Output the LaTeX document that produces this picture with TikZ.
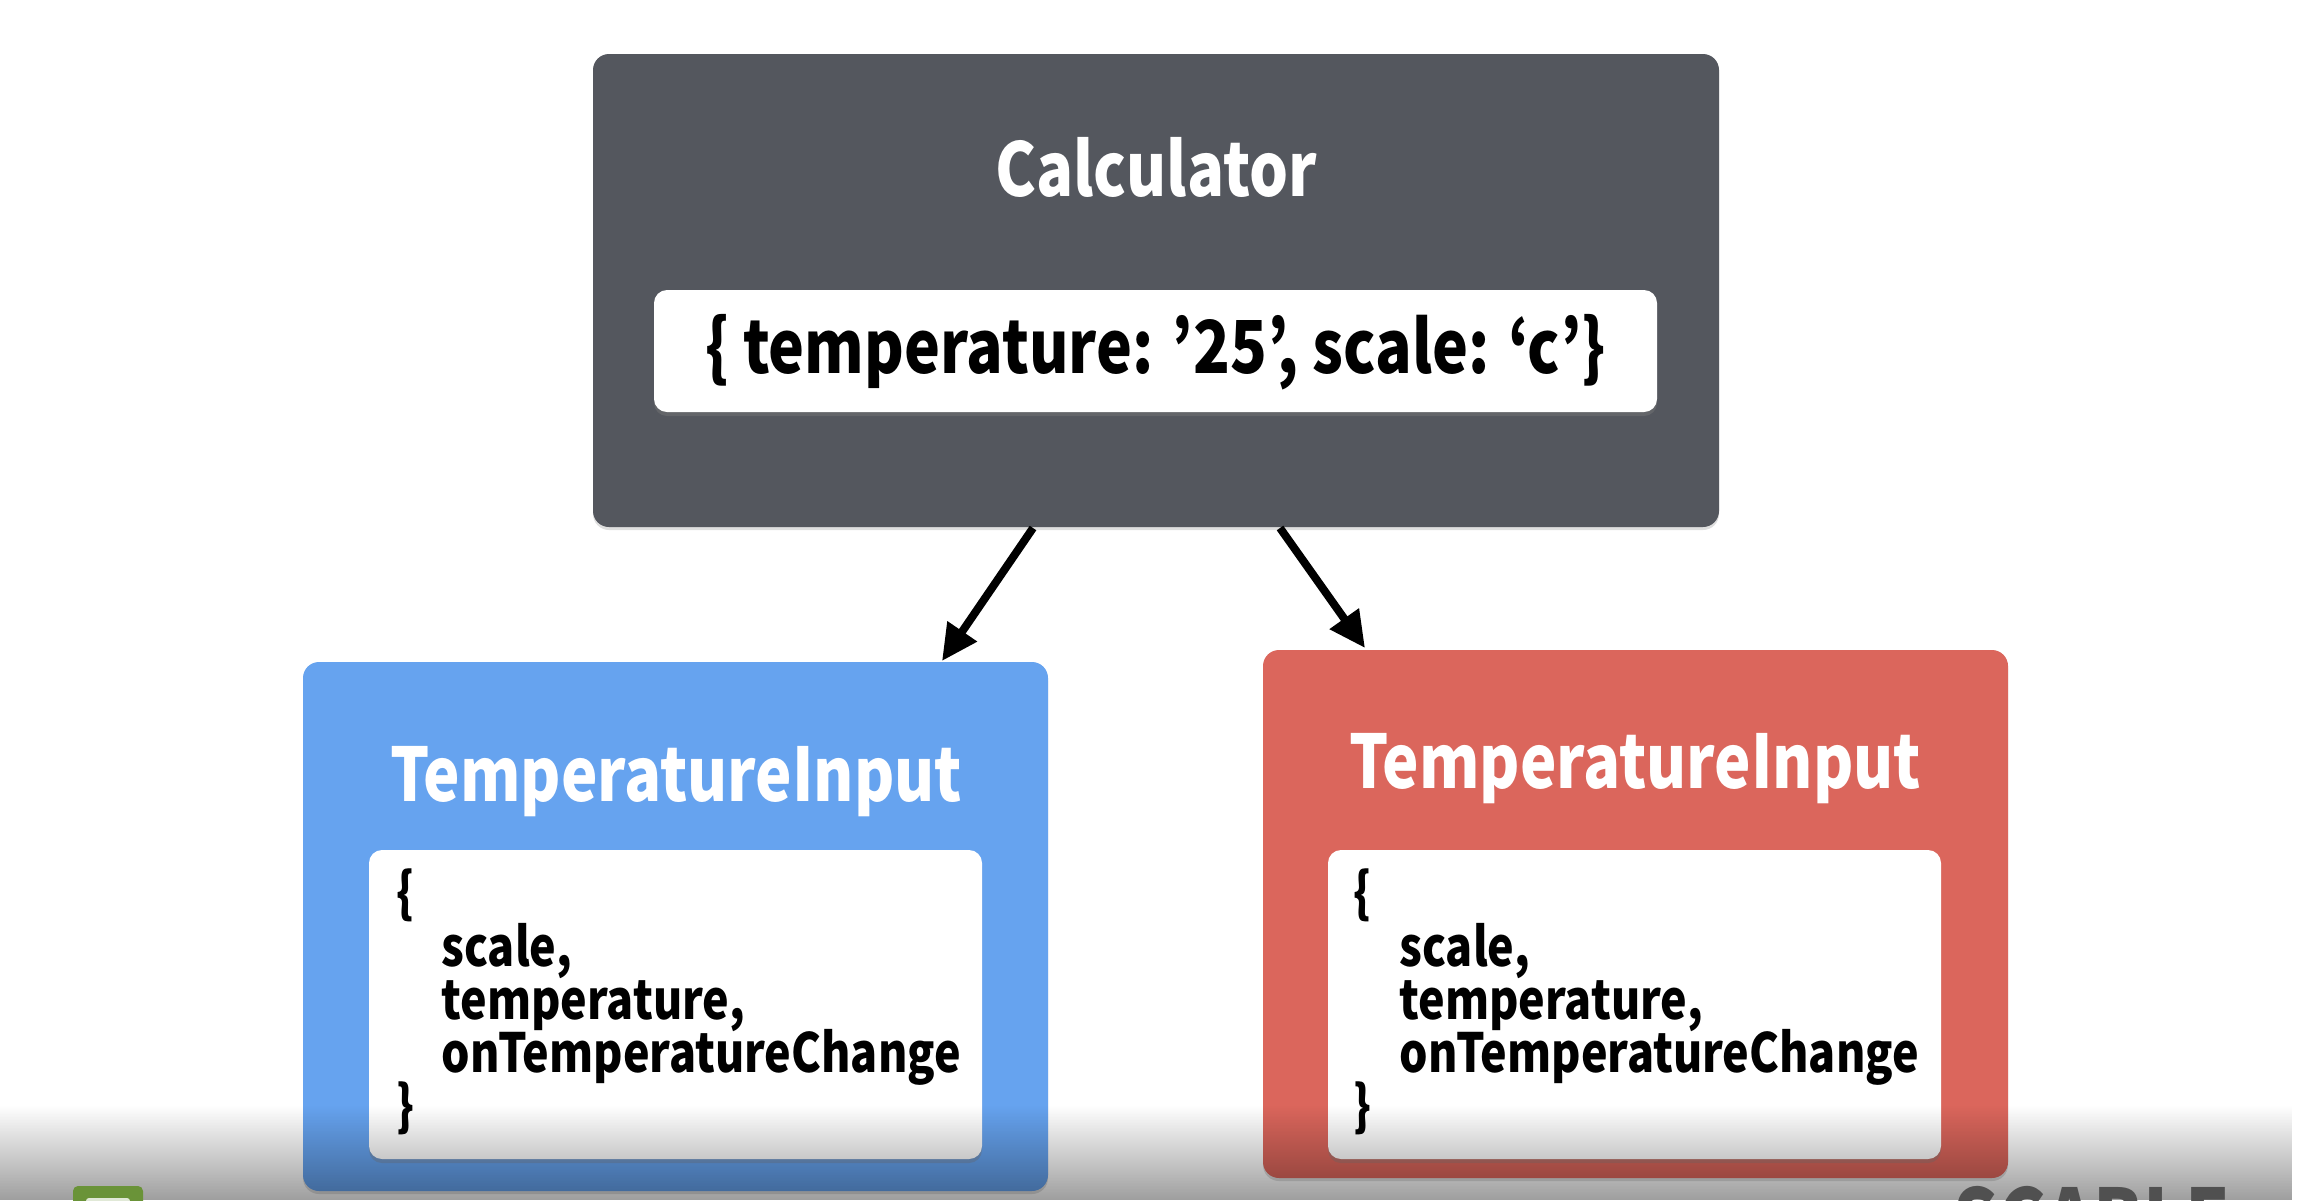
\documentclass[tikz,border=0pt]{standalone}
\usepackage{fontspec}
\setmainfont{Noto Sans CJK KR}[FakeStretch=0.83]
\usetikzlibrary{arrows.meta,shadows,fadings}
\tikzfading[name=fadebot, top color=transparent!100, bottom color=transparent!0]
\definecolor{calcgray}{HTML}{54575E}
\definecolor{tiblue}{HTML}{66A3EF}
\definecolor{tired}{HTML}{DB665C}
\definecolor{logogreen}{HTML}{6A9338}
\definecolor{logotext}{HTML}{505050}
\begin{document}
\begin{tikzpicture}[x=1pt,y=-1pt,
  outerbox/.style={rectangle, rounded corners=16pt, inner sep=0pt, draw=none,
    drop shadow={shadow xshift=0pt,shadow yshift=-3pt,opacity=0.25}},
  innerbox/.style={rectangle, rounded corners=13pt, inner sep=0pt, fill=white, draw=none,
    drop shadow={shadow xshift=0pt,shadow yshift=-4pt,opacity=0.35}},
  titletext/.style={anchor=base, text=white, font=\fontsize{74}{74}\bfseries\selectfont},
  statetext/.style={anchor=base, text=black, font=\fontsize{73}{73}\bfseries\selectfont},
  bodytext/.style={anchor=base west, text=black, font=\fontsize{54}{54}\bfseries\selectfont},
  flow/.style={line width=8pt, -{Triangle[length=36pt,width=34pt]}}
]
\useasboundingbox (0,0) rectangle (2306,1200);
\fill[white] (0,0) rectangle (2306,1200);

% Calculator
\node[outerbox, fill=calcgray, minimum width=1126pt, minimum height=473pt] (calc) at (1156,290.5) {};
\node[titletext] (calctitle) at (1156,196) {Calculator};
\node[innerbox, minimum width=1003pt, minimum height=122pt] (state) at (1155.5,351) {};
\node[statetext] (statetxt) at (1155.5,373) {\{ temperature: ’25’, scale: ‘c’\}};

% Blue TemperatureInput
\node[outerbox, fill=tiblue, minimum width=745pt, minimum height=529pt] (blue) at (675.5,926.5) {};
\node[titletext] (bluetitle) at (676,801) {TemperatureInput};
\node[innerbox, minimum width=613pt, minimum height=309pt] (bluein) at (675.5,1004.5) {};
\node[bodytext] (bl1) at (393,912) {\{};
\node[bodytext] (bl2) at (438,966) {scale,};
\node[bodytext] (bl3) at (438,1019) {temperature,};
\node[bodytext] (bl4) at (438,1072) {onTemperatureChange};
\node[bodytext] (bl5) at (393,1125) {\}};

% Red TemperatureInput
\node[outerbox, fill=tired, minimum width=745pt, minimum height=528pt] (red) at (1635.5,914) {};
\node[titletext] (redtitle) at (1635,788) {TemperatureInput};
\node[innerbox, minimum width=613pt, minimum height=309pt] (redin) at (1634.5,1004.5) {};
\node[bodytext] (rl1) at (1350,912) {\{};
\node[bodytext] (rl2) at (1396,966) {scale,};
\node[bodytext] (rl3) at (1396,1019) {temperature,};
\node[bodytext] (rl4) at (1396,1072) {onTemperatureChange};
\node[bodytext] (rl5) at (1350,1125) {\}};

% Connectors
\coordinate (a1s) at (1033,528);
\coordinate (a1e) at (942,661);
\coordinate (a2s) at (1280,528);
\coordinate (a2e) at (1365,648);
\draw[flow] (a1s) -- (a1e);
\draw[flow] (a2s) -- (a2e);

% bottom darkening overlay
\fill[black, opacity=0.38, path fading=fadebot] (0,1105) rectangle (2306,1200);

% partial logos at the bottom edge
\begin{scope}
\clip (0,0) rectangle (2306,1200);
\fill[logogreen, rounded corners=5pt] (73,1186) rectangle (143,1230);
\fill[white!80!logogreen, rounded corners=3pt] (86,1198) rectangle (130,1230);
\node[anchor=north west, inner sep=0pt, text=logotext, font=\fontsize{86}{86}\bfseries\selectfont] (logo) at (1953,1186) {SCABLE};
\end{scope}
\end{tikzpicture}
\end{document}
